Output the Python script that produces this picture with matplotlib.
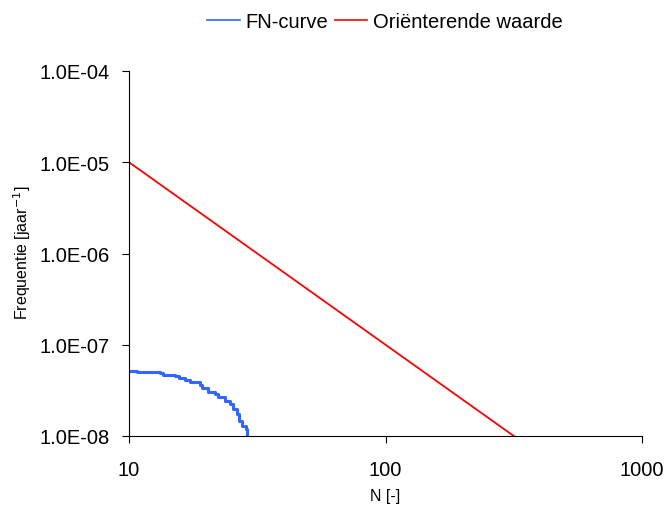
import matplotlib
matplotlib.use("Agg")
import matplotlib.pyplot as plt
from matplotlib.ticker import FixedLocator, NullLocator
from matplotlib.lines import Line2D

plt.rcParams['font.family'] = ['Liberation Sans', 'DejaVu Sans']

# FN-curve (stepped)
fn_N = [10.0, 10.7, 11.3, 13.2, 13.6, 15.1, 15.6, 16.5, 17.3, 18.9, 19.2, 20.4,
        21.6, 22.3, 23.7, 24.8, 25.5, 26.3, 26.9, 27.5, 28.6, 28.9]
fn_F = [5.2e-8, 5.07e-8, 4.99e-8, 4.90e-8, 4.70e-8, 4.58e-8, 4.29e-8, 4.11e-8,
        3.88e-8, 3.62e-8, 3.33e-8, 3.06e-8, 2.89e-8, 2.65e-8, 2.44e-8, 2.24e-8,
        1.98e-8, 1.74e-8, 1.47e-8, 1.28e-8, 1.19e-8, 0.9e-8]

# Oriënterende waarde
ref_N = [10, 316.2]
ref_F = [1e-5, 1e-8]

x_ticks = [10, 100, 1000]
x_labels = ["10", "100", "1000"]
y_ticks = [1e-8, 1e-7, 1e-6, 1e-5, 1e-4]
y_labels = ["1.0E-08", "1.0E-07", "1.0E-06", "1.0E-05", "1.0E-04"]

blue = '#3366FF'
red = '#FF0000'

fig = plt.figure(figsize=(6.67, 5.10), dpi=100)
ax = fig.add_axes([129/667, 1-437/510, (642-129)/667, (437-72)/510])

ax.step(fn_N, fn_F, where='post', color=blue, lw=2.2)
ax.plot(ref_N, ref_F, color=red, lw=1.3)

ax.set_xscale('log')
ax.set_yscale('log')
ax.set_xlim(10, 1000)
ax.set_ylim(1e-8, 1e-4)
ax.xaxis.set_major_locator(FixedLocator(x_ticks))
ax.xaxis.set_minor_locator(NullLocator())
ax.yaxis.set_major_locator(FixedLocator(y_ticks))
ax.yaxis.set_minor_locator(NullLocator())
ax.set_xticklabels(x_labels)
ax.set_yticklabels(y_labels)
ax.tick_params(axis='both', direction='out', length=5, width=0.8, labelsize=14.5,
               colors='black')
ax.tick_params(axis='y', pad=9)
ax.tick_params(axis='x', pad=12)
for s in ['top', 'right']:
    ax.spines[s].set_visible(False)
for s in ['left', 'bottom']:
    ax.spines[s].set_color('#000000')
    ax.spines[s].set_linewidth(0.8)

ax.set_xlabel('N [-]', fontsize=11.5, va='center')
ax.xaxis.set_label_coords(0.5, (437-497)/365)
ax.set_ylabel('Frequentie [jaar$^{-1}$]', fontsize=11.5, va='center')
ax.yaxis.set_label_coords((22-129)/513, 0.505)

handles = [Line2D([], [], color=blue, lw=1.2), Line2D([], [], color=red, lw=1.2)]
fig.legend(handles=handles, labels=['FN-curve', 'Oriënterende waarde'],
           loc='center', bbox_to_anchor=(385/667, 1-23/510),
           ncol=2, frameon=False, fontsize=14.5, handlelength=1.6,
           handletextpad=0.3, columnspacing=0.3, borderpad=0.2)

fig.savefig('out.png', dpi=100)
